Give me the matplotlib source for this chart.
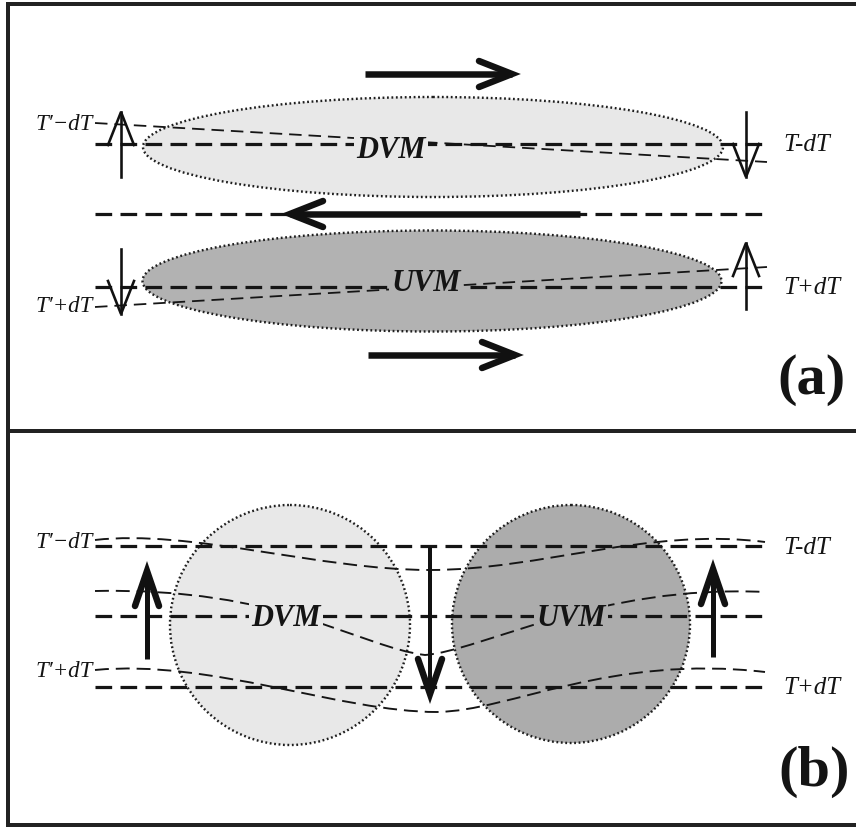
import matplotlib
matplotlib.use("Agg")
import matplotlib.pyplot as plt
from matplotlib.patches import Ellipse, Circle, PathPatch
from matplotlib.path import Path

plt.rcParams['lines.scale_dashes'] = False
serif = ['Liberation Serif', 'DejaVu Serif']
PX = 0.72  # points per pixel at dpi 100

# ---- panel (a) geometry (pixel coords) ----
ell_x = [433, 432]
ell_y = [148, 282]
ell_w = [580, 579]
ell_h = [100, 101]
ell_col = ['#e8e8e8', '#b2b2b2']
ell_txt = ['DVM', 'UVM']
ell_txt_x = [391, 426]
ell_txt_y = [151, 284]

levels_a = [145, 215, 288]
slant_a = [((95, 124), (767, 163)), ((95, 308), (767, 268))]

# thick horizontal arrows: (x_start, x_tip, y)
big_arrows_a = [(365, 512, 75), (580, 290, 215), (368, 515, 356)]
# thin vertical arrows: (x, y_start, y_tip)
small_arrows_a = [(121, 178, 113), (746, 113, 178), (121, 250, 315), (746, 310, 244)]

labels_left_a = ["T\u2032\u2212dT", "T\u2032+dT"]
labels_left_a_y = [124, 307]
labels_right_a = ["T-dT", "T+dT"]
labels_right_a_y = [145, 288]

# ---- panel (b) geometry ----
circ_x = [290, 571]
circ_y = [626, 625]
circ_r = [120, 119]
circ_col = ['#e8e8e8', '#acacac']
circ_txt = ['DVM', 'UVM']
circ_txt_x = [286, 571]
circ_txt_y = [619, 619]

levels_b = [547, 617, 688]
# wavy isotherms as two cubic bezier pieces: start, c1, c2, mid, c1, c2, end
curves_b = [
    [(95, 541), (190, 530), (320, 571), (430, 571), (540, 571), (650, 528), (765, 543)],
    [(95, 592), (280, 588), (360, 648), (425, 656), (480, 652), (600, 585), (765, 593)],
    [(95, 671), (210, 660), (340, 713), (437, 713), (510, 712), (610, 655), (765, 673)],
]
# vertical arrows: (x, y_start, y_tip)
arrows_b = [(147, 660, 572), (430, 548, 695), (713, 658, 570)]

labels_left_b = ["T\u2032\u2212dT", "T\u2032+dT"]
labels_left_b_y = [543, 672]
labels_right_b = ["T-dT", "T+dT"]
labels_right_b_y = [548, 688]

fig = plt.figure(figsize=(8.56, 8.28), dpi=100)
ax = fig.add_axes([0, 0, 1, 1])
ax.set_xlim(0, 856)
ax.set_ylim(828, 0)
ax.axis('off')

thick = dict(color='#151515', lw=3.2 * PX, ls=(0, (12, 6)), zorder=2)
thin = dict(color='#151515', lw=1.8 * PX, ls=(0, (9, 5)), zorder=2)
dotted = dict(edgecolor='#1e1e1e', lw=2.4 * PX, ls=(0, (1.3, 1.9)), zorder=1)

# frame
k = dict(color='#222222', lw=4 * PX, solid_capstyle='projecting', zorder=5)
ax.plot([8, 8], [5, 826], **k)
ax.plot([8, 856], [5, 5], **k)
ax.plot([8, 856], [826, 826], **k)
ax.plot([8, 856], [432, 432], **k)

# ---- panel (a) ----
for x, y, w, h, c in zip(ell_x, ell_y, ell_w, ell_h, ell_col):
    ax.add_patch(Ellipse((x, y), w, h, facecolor=c, **dotted))

for y in levels_a:
    ax.plot([95, 770], [y, y], **thick)
for (p0, p1) in slant_a:
    ax.plot([p0[0], p1[0]], [p0[1], p1[1]], **thin)

for x0, x1, y in big_arrows_a:
    d = 1 if x1 > x0 else -1
    ax.plot([x0, x1], [y, y], color='#111111', lw=6.5 * PX, solid_capstyle='butt', zorder=3)
    ax.plot([x1 - d * 33, x1, x1 - d * 33], [y - 13, y, y + 13], color='#111111',
            lw=6.5 * PX, solid_joinstyle='miter', solid_capstyle='round', zorder=3)

for x, y0, y1 in small_arrows_a:
    d = 1 if y1 > y0 else -1
    ax.plot([x, x], [y0, y1], color='#111111', lw=2.6 * PX, zorder=3)
    ax.plot([x - 13, x, x + 13], [y1 - d * 33, y1, y1 - d * 33], color='#111111',
            lw=2.6 * PX, solid_joinstyle='miter', zorder=3)

for t, x, y, c in zip(ell_txt, ell_txt_x, ell_txt_y, ell_col):
    ax.text(x, y, t, family=serif, style='italic', weight='bold', fontsize=22,
            ha='center', va='center', color='#141414', zorder=4,
            bbox=dict(boxstyle='square,pad=0.08', fc=c, ec='none'))

for t, y in zip(labels_left_a, labels_left_a_y):
    ax.text(93, y, t, family=serif, style='italic', fontsize=16.5, ha='right',
            va='center', color='#141414')
for t, y in zip(labels_right_a, labels_right_a_y):
    ax.text(783, y, t, family=serif, style='italic', fontsize=18, ha='left',
            va='center', color='#141414')

ax.text(812, 380, '(a)', family=serif, weight='bold', fontsize=42, ha='center',
        va='center', color='#141414')

# ---- panel (b) ----
for x, y, r, c in zip(circ_x, circ_y, circ_r, circ_col):
    ax.add_patch(Circle((x, y), r, facecolor=c, **dotted))

for y in levels_b:
    ax.plot([95, 770], [y, y], **thick)

codes = [Path.MOVETO] + [Path.CURVE4] * 6
for pts in curves_b:
    ax.add_patch(PathPatch(Path(pts, codes), fill=False, edgecolor='#151515',
                           lw=1.9 * PX, ls=(0, (10, 5)), zorder=2))

for x, y0, y1 in arrows_b:
    d = 1 if y1 > y0 else -1
    lw = 4 if x == 430 else 5
    ax.plot([x, x], [y0, y1], color='#111111', lw=lw * PX, solid_capstyle='butt', zorder=3)
    ax.plot([x - 12, x, x + 12], [y1 - d * 35, y1, y1 - d * 35], color='#111111',
            lw=6.5 * PX, solid_joinstyle='miter', solid_capstyle='round', zorder=3)

for t, x, y, c in zip(circ_txt, circ_txt_x, circ_txt_y, circ_col):
    ax.text(x, y, t, family=serif, style='italic', weight='bold', fontsize=22,
            ha='center', va='center', color='#141414', zorder=4,
            bbox=dict(boxstyle='square,pad=0.08', fc=c, ec='none'))

for t, y in zip(labels_left_b, labels_left_b_y):
    ax.text(93, y, t, family=serif, style='italic', fontsize=16.5, ha='right',
            va='center', color='#141414')
for t, y in zip(labels_right_b, labels_right_b_y):
    ax.text(783, y, t, family=serif, style='italic', fontsize=18, ha='left',
            va='center', color='#141414')

ax.text(814, 772, '(b)', family=serif, weight='bold', fontsize=42, ha='center',
        va='center', color='#141414')

fig.savefig('out.png', dpi=100)
